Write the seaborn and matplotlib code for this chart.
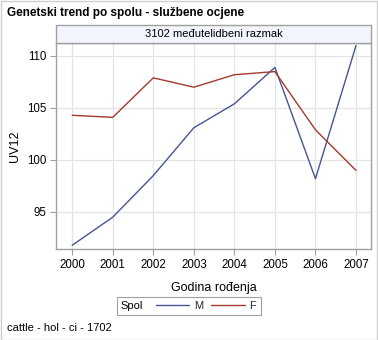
import matplotlib
matplotlib.use("Agg")
import matplotlib.pyplot as plt
from matplotlib.patches import Rectangle
from matplotlib.lines import Line2D
import seaborn as sns
import pandas as pd

years = [2000, 2001, 2002, 2003, 2004, 2005, 2006, 2007]
m_values = [91.8, 94.5, 98.5, 103.1, 105.4, 108.9, 98.2, 111.0]
f_values = [104.3, 104.1, 107.9, 107.0, 108.2, 108.5, 102.9, 99.0]
series_names = ["M", "F"]
y_ticks = [95, 100, 105, 110]

title = "Genetski trend po spolu - službene ocjene"
strip_label = "3102 međutelidbeni razmak"
x_label = "Godina rođenja"
y_label = "UV12"
legend_title = "Spol"
caption = "cattle - hol - ci - 1702"

df = pd.DataFrame({
    "year": years * 2,
    "value": m_values + f_values,
    "spol": [series_names[0]] * len(years) + [series_names[1]] * len(years),
})

sns.set_theme(style="white")
plt.rcParams["font.family"] = ["Liberation Sans", "DejaVu Sans"]

W, H = 378, 340
fig = plt.figure(figsize=(W / 100, H / 100), dpi=100)

def fx(px):
    return px / W

def fy(py):
    return 1 - py / H

ax_l, ax_r, ax_t, ax_b = 56, 371, 43, 249
ax = fig.add_axes([fx(ax_l), fy(ax_b), fx(ax_r - ax_l), (ax_b - ax_t) / H])

palette = {"M": "#445694", "F": "#A23A2E"}
sns.lineplot(data=df, x="year", y="value", hue="spol", palette=palette,
             ax=ax, linewidth=1.0, legend=False)

ax.set_xlim(1999.6, 2007.37)
ax.set_ylim(91.44, 111.25)
ax.set_xticks(years)
ax.set_xticklabels([str(y) for y in years])
ax.set_yticks(y_ticks)
ax.set_yticklabels([str(t) for t in y_ticks])
ax.grid(True, color="#e4e4e4", linewidth=0.9)
ax.set_axisbelow(True)
for s in ax.spines.values():
    s.set_color("#a0a0a0")
    s.set_linewidth(1.0)
ax.tick_params(axis="both", direction="out", length=4, width=0.8, color="#a0a0a0",
               labelsize=8.3, labelcolor="black", pad=3,
               bottom=True, left=True)
ax.set_xlabel(x_label, fontsize=9, color="black", labelpad=8)
ax.set_ylabel(y_label, fontsize=9, color="black", labelpad=4)

# strip header
fig.patches.append(Rectangle((fx(ax_l), fy(43)), fx(ax_r - ax_l), 18 / H,
                             transform=fig.transFigure, facecolor="#f2f5fd",
                             edgecolor="#a0a0a0", linewidth=1.0))
fig.text(fx((ax_l + ax_r) / 2), fy(34), strip_label, ha="center", va="center",
         fontsize=8, color="black")

# title
fig.text(fx(7), fy(13), title, ha="left", va="center", fontsize=8.5,
         fontweight="bold", color="black")

# caption
fig.text(fx(7), fy(328), caption, ha="left", va="center", fontsize=8, color="black")

# legend frame
fig.patches.append(Rectangle((fx(117), fy(315)), fx(261 - 117), 18 / H,
                             transform=fig.transFigure, facecolor="white",
                             edgecolor="#a0a0a0", linewidth=0.8))
fig.text(fx(120), fy(306), legend_title, ha="left", va="center", fontsize=8, color="black")
handles = [Line2D([0], [0], color=palette[n], linewidth=1.0) for n in series_names]
fig.legend(handles, series_names, loc="center left",
           bbox_to_anchor=(fx(156), fy(306)), ncol=2, frameon=False,
           fontsize=8, handlelength=3.0, handletextpad=0.45, columnspacing=0.7,
           borderpad=0, borderaxespad=0)

# outer border
fig.patches.append(Rectangle((0.5 / W, 0.5 / H), 1 - 1.5 / W, 1 - 1.5 / H,
                             transform=fig.transFigure, facecolor="none",
                             edgecolor="#cfcfcf", linewidth=1.0))

fig.savefig("out.png", dpi=100)
